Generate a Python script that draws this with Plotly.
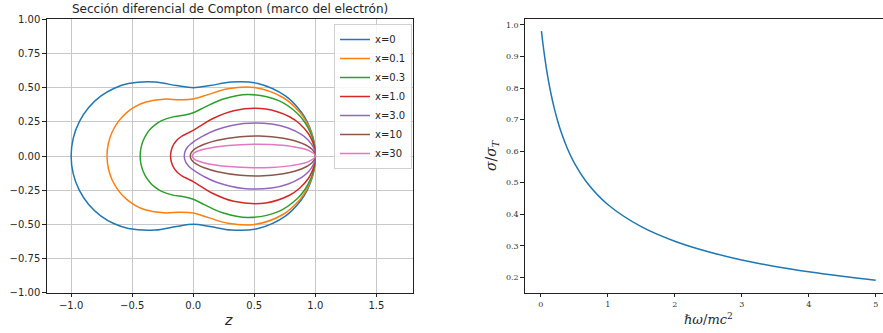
import numpy as np
import plotly.graph_objects as go

# ---------------- data ----------------
# Left panel: radial value of the differential cross-section (normalised) vs scattering angle
angles_deg = [0, 2.5, 5, 7.5, 10, 15, 20, 30, 45, 60, 75, 90, 105, 120, 135, 142.5, 150, 157.5, 165, 172.5, 180]
r_x0 = [1, 0.99905, 0.9962, 0.99148, 0.9849, 0.9665, 0.9415, 0.875, 0.75, 0.625, 0.5335, 0.5, 0.5335, 0.625,
        0.75, 0.8147, 0.875, 0.92678, 0.9665, 0.99148, 1]
r_x01 = [1, 0.99886, 0.99545, 0.98979, 0.98194, 0.95996, 0.93027, 0.85210, 0.70832, 0.56797, 0.46461, 0.41698,
         0.42642, 0.47999, 0.55630, 0.59557, 0.63186, 0.66275, 0.68629, 0.70101, 0.70602]
r_x03 = [1, 0.99848, 0.99393, 0.98642, 0.97602, 0.94710, 0.90850, 0.80940, 0.63673, 0.47999, 0.37059, 0.31634,
         0.30837, 0.33048, 0.36593, 0.38420, 0.40093, 0.41504, 0.42570, 0.43232, 0.43457]
r_x1 = [1, 0.99715, 0.98867, 0.97477, 0.95578, 0.90439, 0.83898, 0.68661, 0.46853, 0.31481, 0.22801, 0.1875,
        0.17331, 0.172, 0.17579, 0.17819, 0.18048, 0.18244, 0.18394, 0.18487, 0.18519]
r_x3 = [1, 0.99337, 0.97391, 0.94279, 0.90184, 0.79945, 0.68506, 0.47452, 0.27072, 0.172, 0.12514, 0.10156,
        0.08882, 0.08152, 0.07719, 0.07574, 0.07465, 0.07385, 0.07331, 0.07299, 0.07289]
r_x10 = [1, 0.98034, 0.92516, 0.84423, 0.74981, 0.56176, 0.41051, 0.2299, 0.11931, 0.07523, 0.05369, 0.0417,
         0.03447, 0.02991, 0.02699, 0.02596, 0.02517, 0.02459, 0.02418, 0.02394, 0.02386]
r_x30 = [1, 0.94471, 0.80724, 0.64445, 0.49843, 0.29953, 0.19313, 0.09861, 0.04901, 0.02991, 0.02069, 0.01563,
         0.0126, 0.0107, 0.00949, 0.00907, 0.00874, 0.00850, 0.00833, 0.00823, 0.0082]
series_labels = ["x=0", "x=0.1", "x=0.3", "x=1.0", "x=3.0", "x=10", "x=30"]
series_r = [r_x0, r_x01, r_x03, r_x1, r_x3, r_x10, r_x30]

# Right panel: total cross-section ratio vs photon energy
energy = [0.01, 0.02, 0.03, 0.05, 0.075, 0.1, 0.15, 0.2, 0.25, 0.3, 0.4, 0.5, 0.7,
          1.0, 1.5, 2.0, 2.5, 3.0, 3.5, 4.0, 4.5, 5.0]
sigma_ratio = [0.9805, 0.9620, 0.9444, 0.9115, 0.8745, 0.8413, 0.7843, 0.7369, 0.6970,
               0.6627, 0.6067, 0.5628, 0.4973, 0.4307, 0.3603, 0.3141, 0.2807, 0.2549,
               0.2343, 0.2173, 0.2030, 0.1907]

left_xticks = [-1.0, -0.5, 0.0, 0.5, 1.0, 1.5]
left_xticklabels = ["−1.0", "−0.5", "0.0", "0.5", "1.0", "1.5"]
left_yticks = [-1.0, -0.75, -0.5, -0.25, 0.0, 0.25, 0.5, 0.75, 1.0]
left_yticklabels = ["−1.00", "−0.75", "−0.50", "−0.25", "0.00", "0.25", "0.50", "0.75", "1.00"]
right_xticks = [0, 1, 2, 3, 4, 5]
right_yticks = [0.2, 0.3, 0.4, 0.5, 0.6, 0.7, 0.8, 0.9, 1.0]

colors = ["#1f77b4", "#ff7f0e", "#2ca02c", "#d62728", "#9467bd", "#8c564b", "#e377c2"]

# ---------------- figure ----------------
W, H = 883, 333
fig = go.Figure()

theta = np.deg2rad(np.array(angles_deg))
for lab, r, col in zip(series_labels, series_r, colors):
    r = np.array(r)
    z_up = r * np.cos(theta)
    y_up = r * np.sin(theta)
    z_full = np.concatenate([z_up, z_up[::-1][1:]])
    y_full = np.concatenate([y_up, -y_up[::-1][1:]])
    fig.add_trace(go.Scatter(x=z_full, y=y_full, mode="lines", name=lab,
                             line=dict(color=col, width=1.5, shape="spline", smoothing=1.0),
                             xaxis="x", yaxis="y"))

fig.add_trace(go.Scatter(x=energy, y=sigma_ratio, mode="lines", showlegend=False,
                         line=dict(color="#1f77b4", width=1.5, shape="spline"),
                         xaxis="x2", yaxis="y2"))

def px(x):
    return x / W

def py(y):
    return 1 - y / H

ydom = [py(292.7), py(19.3)]
sans = "DejaVu Sans"
serif = "DejaVu Serif"

common = dict(showline=True, linecolor="#222", linewidth=0.9, ticks="outside",
              ticklen=3.5, tickwidth=0.8, tickcolor="#222", zeroline=False,
              automargin=False)

fig.update_layout(
    width=W, height=H,
    margin=dict(l=0, r=0, t=0, b=0, autoexpand=False),
    paper_bgcolor="white", plot_bgcolor="white",
    showlegend=True,
    xaxis=dict(domain=[px(46.7), px(413)], range=[-1.2, 1.8], tickvals=left_xticks,
               ticktext=left_xticklabels, showgrid=True, gridcolor="#c8c8c8", gridwidth=0.8,
               mirror=True, tickfont=dict(family=sans, size=10, color="#262626"), anchor="y",
               **common),
    yaxis=dict(domain=ydom, range=[-1, 1], tickvals=left_yticks, ticktext=left_yticklabels,
               showgrid=True, gridcolor="#c8c8c8", gridwidth=0.8, mirror=True,
               tickfont=dict(family=sans, size=10, color="#262626"), anchor="x", **common),
    xaxis2=dict(domain=[px(524.7), 1.0], range=[-0.24, 5.109], tickvals=right_xticks,
                showgrid=False, mirror=True,
                tickfont=dict(family=serif, size=8, color="#333"), anchor="y2", **common),
    yaxis2=dict(domain=ydom, range=[0.151, 1.018], tickvals=right_yticks, tickformat=".1f",
                showgrid=False, mirror=False,
                tickfont=dict(family=serif, size=8, color="#333"), anchor="x2", **common),
    legend=dict(x=px(334), y=py(24), xanchor="left", yanchor="top",
                bgcolor="rgba(255,255,255,0.85)", bordercolor="#d0d0d0", borderwidth=1,
                font=dict(family=sans, size=10, color="#262626"), tracegroupgap=0,
                itemwidth=30),
    annotations=[
        dict(text="Sección diferencial de Compton (marco del electrón)", x=px(230), y=py(8.5),
             xref="paper", yref="paper", showarrow=False, xanchor="center", yanchor="middle",
             font=dict(family=sans, size=12, color="#262626")),
        dict(text="<i>z</i>", x=px(229), y=py(320), xref="paper", yref="paper",
             showarrow=False, xanchor="center", yanchor="middle",
             font=dict(family=sans, size=14, color="#262626")),
        dict(text="<i>ℏω</i>/<i>mc</i><sup>2</sup>", x=px(708), y=py(319), xref="paper",
             yref="paper", showarrow=False, xanchor="center", yanchor="middle",
             font=dict(family=serif, size=13, color="#262626")),
        dict(text="<i>σ</i>/<i>σ</i><sub><i>T</i></sub>", x=px(492), y=py(155), xref="paper",
             yref="paper", showarrow=False, xanchor="center", yanchor="middle", textangle=-90,
             font=dict(family=serif, size=14, color="#262626")),
    ],
)

fig.write_html("out.html", config={"displayModeBar": False},
               post_script="document.body.style.margin='0';")
